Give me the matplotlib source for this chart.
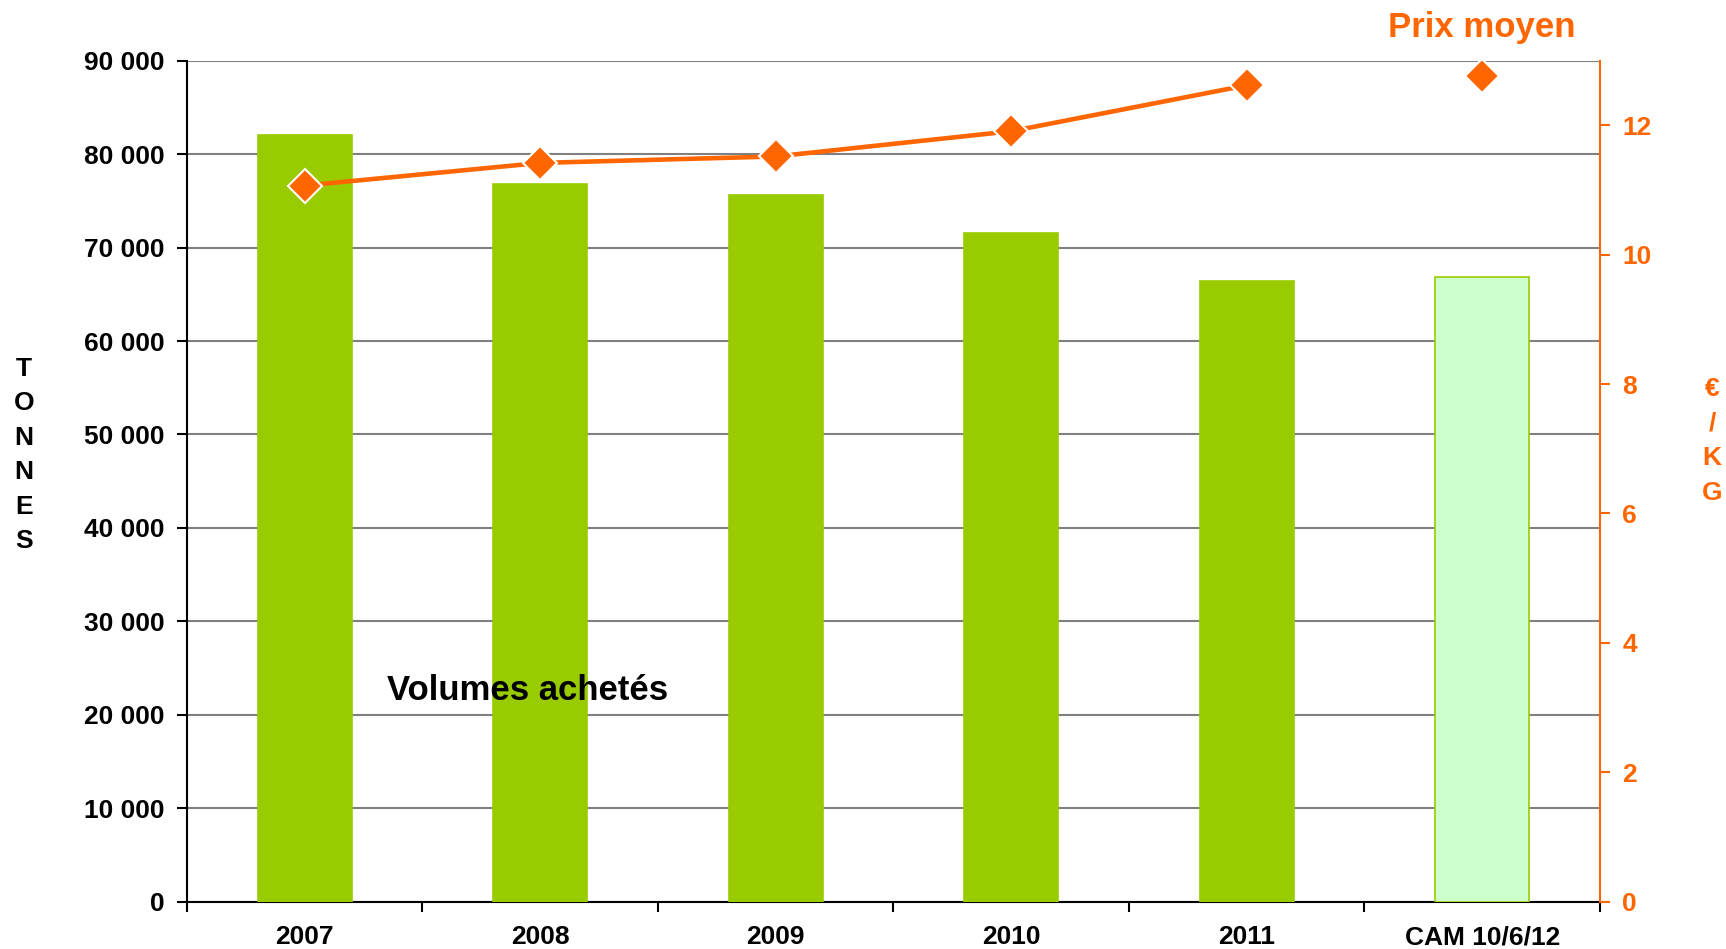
import matplotlib
matplotlib.use("Agg")
import matplotlib.pyplot as plt
import numpy as np
from matplotlib.ticker import FuncFormatter, FixedLocator

# ---- data ----
categories = ["2007", "2008", "2009", "2010", "2011", "CAM 10/6/12"]
volumes = [82100, 76800, 75600, 71600, 66450, 66800]
prices = [11.07, 11.42, 11.52, 11.91, 12.62, 12.77]
left_ticks = [0, 10000, 20000, 30000, 40000, 50000, 60000, 70000, 80000, 90000]
right_ticks = [0, 2, 4, 6, 8, 10, 12]

GREEN = "#99CC00"
LIGHT = "#CCFFCC"
ORANGE = "#FF6600"

plt.rcParams['font.family'] = ['Liberation Sans', 'DejaVu Sans']
plt.rcParams['font.weight'] = 'bold'

fig = plt.figure(figsize=(17.26, 9.49), dpi=100)
ax = fig.add_axes([0.1083, 0.05, 0.927 - 0.1083, 0.936 - 0.05])
ax2 = ax.twinx()

x = np.arange(len(categories))
colors = [GREEN] * (len(categories) - 1) + [LIGHT]
edges = [GREEN] * len(categories)
ax.bar(x, volumes, width=0.4, color=colors, edgecolor=edges, linewidth=1.2, zorder=3)

ax.set_xlim(-0.5, len(categories) - 0.5)
ax.set_ylim(0, 90000)
ax.yaxis.set_major_locator(FixedLocator(left_ticks))
ax.yaxis.set_major_formatter(FuncFormatter(lambda v, p: f"{int(v):,}".replace(",", " ")))
ax.grid(axis='y', color='#808080', linewidth=1.5, zorder=0)
ax.set_axisbelow(True)

ax.set_xticks(x)
ax.set_xticklabels(categories)
ax.set_xticks(np.arange(-0.5, len(categories)), minor=True)
ax.tick_params(axis='x', which='major', length=0, pad=17, labelsize=19)
ax.tick_params(axis='x', which='minor', length=7, width=1.5, direction='out', color='black')
ax.tick_params(axis='y', length=7, width=1.5, direction='out', pad=9, labelsize=19)
for lbl in ax.get_xticklabels() + ax.get_yticklabels():
    lbl.set_fontweight('bold')

for s in ['top', 'right']:
    ax.spines[s].set_visible(False)
ax.spines['left'].set_linewidth(1.5)
ax.spines['bottom'].set_linewidth(1.5)

# price line
ax2.plot(x[:-1], prices[:-1], color=ORANGE, linewidth=3.3, marker='D', markersize=17,
         markerfacecolor=ORANGE, markeredgecolor='white', markeredgewidth=1.5, zorder=5)
ax2.plot(x[-1:], prices[-1:], linestyle='none', marker='D', markersize=17,
         markerfacecolor=ORANGE, markeredgecolor='white', markeredgewidth=1.5, zorder=5)
ax2.set_ylim(0, 13)
ax2.yaxis.set_major_locator(FixedLocator(right_ticks))
ax2.tick_params(axis='y', length=7, width=1.5, direction='out', pad=9, labelsize=19,
                colors=ORANGE)
for lbl in ax2.get_yticklabels():
    lbl.set_fontweight('bold')
for s in ['top', 'left', 'bottom']:
    ax2.spines[s].set_visible(False)
ax2.spines['right'].set_color(ORANGE)
ax2.spines['right'].set_linewidth(1.5)

# texts
fig.text(387 / 1726, 1 - 690 / 949, "Volumes achetés", fontsize=25, fontweight='bold',
         color='black', ha='left', va='center')
fig.text(1482 / 1726, 1 - 28 / 949, "Prix moyen", fontsize=25, fontweight='bold',
         color=ORANGE, ha='center', va='center')
fig.text(24 / 1726, 1 - 455 / 949, "T\nO\nN\nN\nE\nS", fontsize=19, fontweight='bold',
         color='black', ha='center', va='center', linespacing=1.55)
fig.text(1712 / 1726, 1 - 441 / 949, "€\n/\nK\nG", fontsize=19, fontweight='bold',
         color=ORANGE, ha='center', va='center', linespacing=1.55)

fig.savefig("out.png", dpi=100)
